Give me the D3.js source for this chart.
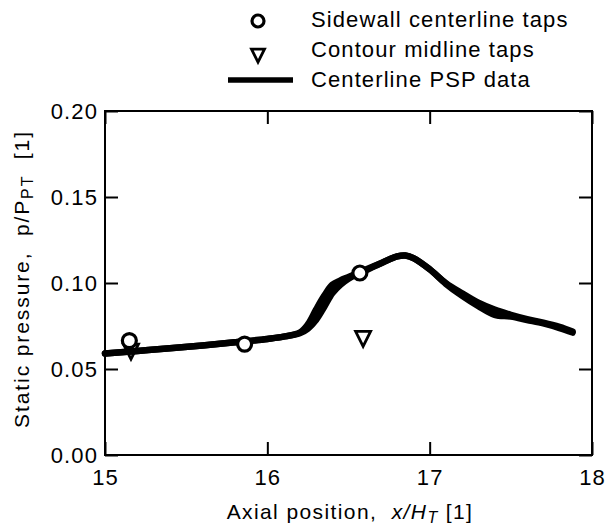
<!DOCTYPE html>
<html>
<head>
<meta charset="utf-8">
<script src="https://cdn.jsdelivr.net/npm/d3@7"></script>
<style>
  html, body { margin: 0; padding: 0; background: #fff; }
  svg { display: block; }
  text { font-family: "Liberation Sans", Arial, Helvetica, sans-serif; fill: #000; white-space: pre; }
</style>
</head>
<body>
<svg id="chart" width="610" height="526"></svg>
<script>
// ---- data ----
const pspX  = [15.0, 15.2, 15.4, 15.6, 15.8, 16.0, 16.1, 16.2, 16.25, 16.3, 16.35, 16.4, 16.45, 16.5, 16.55, 16.6, 16.7, 16.8, 16.85, 16.9, 17.0, 17.1, 17.2, 17.3, 17.4, 17.5, 17.6, 17.7, 17.8, 17.88];
const pspRunA = [0.059, 0.0605, 0.062, 0.0637, 0.0655, 0.0675, 0.0688, 0.0708, 0.0735, 0.0785, 0.086, 0.094, 0.099, 0.1025, 0.105, 0.107, 0.1115, 0.1155, 0.116, 0.1145, 0.108, 0.0995, 0.0925, 0.0865, 0.0815, 0.0805, 0.0785, 0.0765, 0.0738, 0.0712];
const pspRunB = [0.059, 0.0605, 0.062, 0.0637, 0.0655, 0.0675, 0.0688, 0.0712, 0.076, 0.0845, 0.0925, 0.099, 0.1015, 0.1035, 0.1055, 0.1075, 0.1115, 0.1155, 0.116, 0.1145, 0.108, 0.100, 0.094, 0.0885, 0.0845, 0.0815, 0.079, 0.077, 0.0745, 0.0718];
const sidewallX = [15.15, 15.86, 16.57];
const sidewallY = [0.0665, 0.0645, 0.1058];
const contourX  = [15.16, 16.59];
const contourY  = [0.0605, 0.068];
const xTicks = [15, 16, 17, 18];
const yTicks = [0.00, 0.05, 0.10, 0.15, 0.20];
const legendLabels = ["Sidewall centerline taps", "Contour midline taps", "Centerline PSP data"];

// ---- layout ----
const L = 105, R = 592, T = 111, B = 455;
const svg = d3.select("#chart");
const x = d3.scaleLinear().domain([15, 18]).range([L, R]);
const y = d3.scaleLinear().domain([0, 0.2]).range([B, T]);
const FS = 22, LS = "1.1px";

// axes (ticks inward)
const gB = svg.append("g").attr("transform", `translate(0,${B})`)
  .call(d3.axisBottom(x).tickValues(xTicks).tickFormat(d3.format("d")).tickSize(-13).tickPadding(14));
const gL = svg.append("g").attr("transform", `translate(${L},0)`)
  .call(d3.axisLeft(y).tickValues(yTicks).tickFormat(d3.format(".2f")).tickSize(-13).tickPadding(7));
const gT = svg.append("g").attr("transform", `translate(0,${T})`)
  .call(d3.axisTop(x).tickValues(xTicks).tickFormat("").tickSize(-13));
const gR = svg.append("g").attr("transform", `translate(${R},0)`)
  .call(d3.axisRight(y).tickValues(yTicks).tickFormat("").tickSize(-13));
[gB, gL, gT, gR].forEach(g => {
  g.select(".domain").remove();
  g.selectAll(".tick line").attr("stroke", "#000").attr("stroke-width", 2);
  g.selectAll("text").attr("font-size", FS).style("letter-spacing", LS)
    .attr("font-family", '"Liberation Sans", Arial, sans-serif').attr("fill", "#000");
});

// frame
svg.append("rect").attr("x", L).attr("y", T).attr("width", R - L).attr("height", B - T)
  .attr("fill", "none").attr("stroke", "#000").attr("stroke-width", 2);

// PSP lines
const line = d3.line().curve(d3.curveCatmullRom.alpha(0.5));
[pspRunA, pspRunB].forEach(run => {
  svg.append("path")
    .attr("d", line(pspX.map((d, i) => [x(d), y(run[i])])))
    .attr("fill", "none").attr("stroke", "#000").attr("stroke-width", 6.5)
    .attr("stroke-linecap", "round").attr("stroke-linejoin", "round");
});

// triangle symbol (pointing down)
const tri = (cx, cy, s) => `M${cx - s / 2},${cy - s * 0.45}L${cx + s / 2},${cy - s * 0.45}L${cx},${cy + s * 0.55}Z`;

contourX.forEach((d, i) => {
  svg.append("path").attr("d", tri(x(d), y(contourY[i]), 15))
    .attr("fill", "none").attr("stroke", "#000").attr("stroke-width", 2.8).attr("stroke-linejoin", "miter");
});
sidewallX.forEach((d, i) => {
  svg.append("circle").attr("cx", x(d)).attr("cy", y(sidewallY[i])).attr("r", 7)
    .attr("fill", "#fff").attr("stroke", "#000").attr("stroke-width", 3.2);
});

// legend
const lg = svg.append("g");
const rowsY = [27, 57, 87];
legendLabels.forEach((t, i) => {
  lg.append("text").attr("x", 311).attr("y", rowsY[i]).attr("font-size", FS)
    .style("letter-spacing", LS).text(t);
});
lg.append("circle").attr("cx", 258).attr("cy", 21).attr("r", 6)
  .attr("fill", "#fff").attr("stroke", "#000").attr("stroke-width", 3.2);
lg.append("path").attr("d", tri(258, 55, 13)).attr("fill", "none").attr("stroke", "#000").attr("stroke-width", 2.8);
lg.append("line").attr("x1", 228).attr("x2", 293).attr("y1", 80).attr("y2", 80)
  .attr("stroke", "#000").attr("stroke-width", 5.5);

// axis titles
const xt = svg.append("text").attr("x", 350).attr("y", 519).attr("text-anchor", "middle")
  .attr("font-size", 21).style("letter-spacing", "1.4px");
xt.append("tspan").text("Axial position,  ");
xt.append("tspan").attr("font-style", "italic").text("x/H");
xt.append("tspan").attr("font-style", "italic").attr("font-size", 16).attr("dy", 4).text("T");
xt.append("tspan").attr("dy", -4).text(" [1]");

const yt = svg.append("text").attr("transform", `translate(29,279) rotate(-90)`)
  .attr("text-anchor", "middle").attr("font-size", 21).style("letter-spacing", "1.9px");
yt.append("tspan").text("Static pressure,  p/P");
yt.append("tspan").attr("font-size", 16).attr("dy", 4).text("PT");
yt.append("tspan").attr("dy", -4).text("  [1]");
</script>
</body>
</html>
